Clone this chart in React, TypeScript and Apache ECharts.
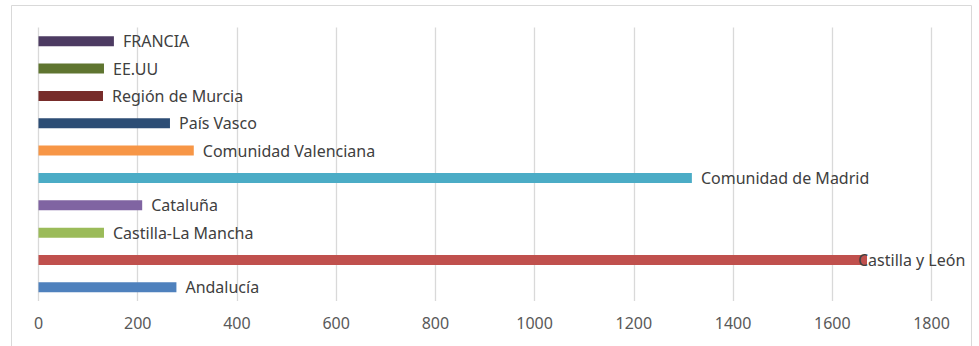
import React, { useEffect, useRef } from "react";
import * as echarts from "echarts";

const categories = [
  "Andalucía",
  "Castilla y León",
  "Castilla-La Mancha",
  "Cataluña",
  "Comunidad de Madrid",
  "Comunidad Valenciana",
  "País Vasco",
  "Región de Murcia",
  "EE.UU",
  "FRANCIA",
];
const values = [278, 1670, 132, 209, 1317, 313, 265, 130, 132, 152];
const colors = [
  "#4F81BD",
  "#C0504D",
  "#9BBB59",
  "#8064A2",
  "#4BACC6",
  "#F79646",
  "#2C4D75",
  "#772C2A",
  "#5F7530",
  "#4D3B62",
];

export default function App() {
  const ref = useRef<HTMLDivElement>(null);
  useEffect(() => {
    if (!ref.current) return;
    const chart = echarts.init(ref.current, null, { renderer: "svg" });
    const font = "'Noto Sans', sans-serif";
    chart.setOption({
      animation: false,
      backgroundColor: "#ffffff",
      graphic: [
        {
          type: "rect",
          shape: { x: 11.5, y: 5.5, width: 960, height: 380 },
          style: { fill: "none", stroke: "#D9D9D9", lineWidth: 1 },
          silent: true,
          z: -10,
        },
      ],
      grid: { left: 38.5, right: 47.5, top: 27.5, bottom: 45, containLabel: false },
      xAxis: {
        type: "value",
        min: 0,
        max: 1800,
        interval: 200,
        axisLine: { show: false },
        axisTick: { show: false },
        axisLabel: {
          color: "#595959",
          fontSize: 16,
          fontFamily: font,
          margin: 14,
          formatter: (v: number) => String(v),
        },
        splitLine: { show: true, lineStyle: { color: "#D9D9D9", width: 1.3 } },
      },
      yAxis: {
        type: "category",
        data: categories,
        axisLine: { show: false },
        axisTick: { show: false },
        axisLabel: { show: false },
        splitLine: { show: false },
      },
      series: [
        {
          type: "bar",
          barWidth: 10,
          data: values.map((v, i) => ({
            value: v,
            itemStyle: { color: colors[i] },
            label:
              categories[i] === "Castilla y León"
                ? { offset: [-18, 0] }
                : undefined,
          })),
          label: {
            show: true,
            position: "right",
            distance: 9,
            formatter: "{b}",
            color: "#404040",
            fontSize: 16,
            fontFamily: font,
          },
        },
      ],
    });
    return () => chart.dispose();
  }, []);
  return (
    <div
      ref={ref}
      style={{ position: "absolute", left: 0, top: 0, width: 979, height: 346 }}
    />
  );
}
